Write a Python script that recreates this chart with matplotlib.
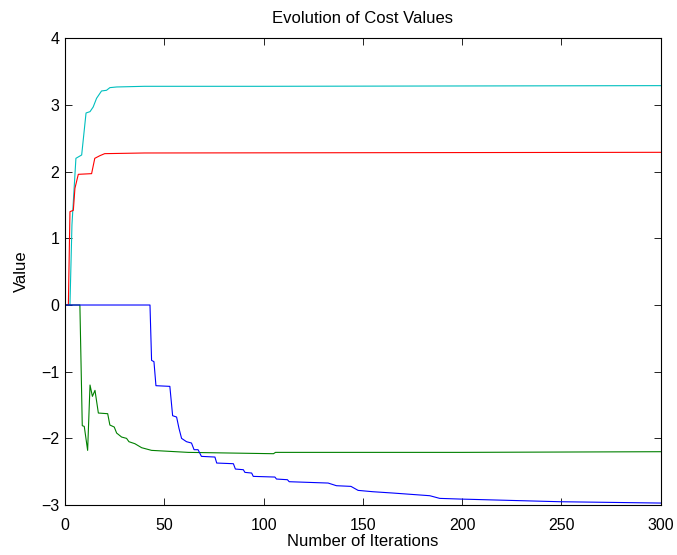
import matplotlib
matplotlib.use("Agg")
import matplotlib.pyplot as plt

plt.rcParams['font.family'] = ['Liberation Sans', 'DejaVu Sans']

# cost values (iteration, value) breakpoints
cyan_x = [0, 2.5, 3.5, 5.5, 8.4, 10.6, 12.6, 14.2, 15.9, 18.4, 20.9, 22.6, 26, 40, 100, 300]
cyan_y = [0, 0, 1.2, 2.2, 2.25, 2.88, 2.9, 2.97, 3.1, 3.21, 3.22, 3.26, 3.27, 3.28, 3.28, 3.29]

red_x = [0, 1.7, 2.5, 4.2, 5.0, 6.7, 13.4, 15.0, 17.6, 20.0, 40, 300]
red_y = [0, 0, 1.4, 1.42, 1.75, 1.96, 1.97, 2.2, 2.24, 2.27, 2.28, 2.29]

green_x = [0, 7.5, 8.7, 9.7, 11.4, 12.6, 13.8, 15.1, 16.8, 21.5, 22.6, 24.8, 26.0, 28.5,
           31.0, 32.2, 35.2, 38.6, 43.6, 62, 105, 106, 200, 300]
green_y = [0, 0, -1.81, -1.82, -2.18, -1.2, -1.37, -1.28, -1.62, -1.63, -1.8, -1.83, -1.92,
           -1.98, -2.0, -2.05, -2.08, -2.14, -2.18, -2.21, -2.23, -2.21, -2.21, -2.2]

blue_x = [0, 42.8, 43.6, 44.8, 45.8, 52.8, 54.2, 56.2, 57.4, 58.7, 61.2, 63.7, 65, 67,
          68.7, 75.5, 76.4, 84.8, 85.8, 89.8, 90.6, 94, 94.8, 105.7, 106.5, 112, 112.9,
          132.5, 136.7, 144, 147.6, 155, 165.2, 183.7, 188.7, 198.8, 249, 300]
blue_y = [0, 0, -0.83, -0.85, -1.21, -1.22, -1.66, -1.68, -1.85, -2.0, -2.05, -2.07, -2.17,
          -2.17, -2.27, -2.28, -2.37, -2.38, -2.46, -2.47, -2.51, -2.52, -2.57, -2.58, -2.61,
          -2.62, -2.65, -2.67, -2.71, -2.72, -2.78, -2.8, -2.82, -2.86, -2.9, -2.91, -2.95, -2.97]

fig = plt.figure(figsize=(6.77, 5.55), dpi=100)
ax = fig.add_axes([0.096, 0.090, 0.880, 0.841])

ax.plot(cyan_x, cyan_y, color=(0, 0.75, 0.75), lw=0.8)
ax.plot(red_x, red_y, color='red', lw=0.8)
ax.plot(green_x, green_y, color=(0, 0.5, 0), lw=0.8)
ax.plot(blue_x, blue_y, color='blue', lw=0.8)

ax.set_xlim(0, 300)
ax.set_ylim(-3, 4)
ax.set_xticks(range(0, 301, 50))
ax.set_yticks(range(-3, 5))
ax.tick_params(direction='in', top=True, right=True, labelsize=11.5, length=5, width=0.6)
ax.tick_params(axis='x', pad=9)
ax.tick_params(axis='y', pad=4)
for s in ax.spines.values():
    s.set_linewidth(0.8)

ax.set_title('Evolution of Cost Values', fontsize=12, pad=11)
ax.set_xlabel('Number of Iterations', fontsize=12, labelpad=1)
ax.set_ylabel('Value', fontsize=12, labelpad=9)

fig.savefig('out.png', dpi=100)
